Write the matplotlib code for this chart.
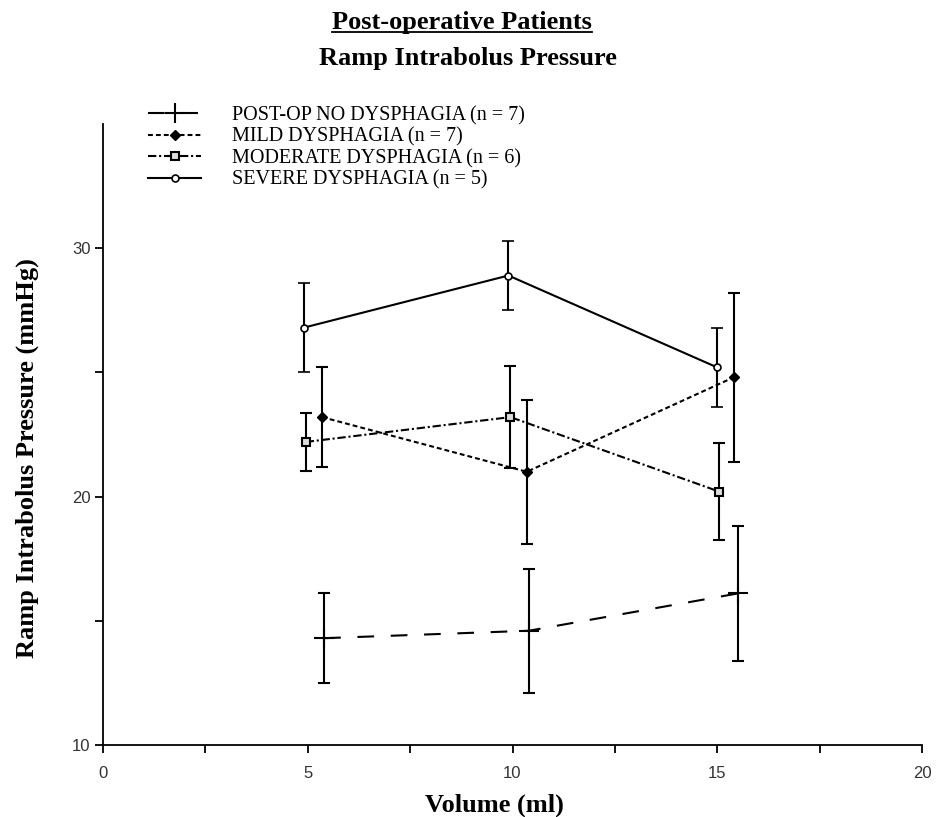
import matplotlib
matplotlib.use("Agg")
import matplotlib.pyplot as plt
from matplotlib.lines import Line2D

plt.rcParams['lines.scale_dashes'] = False

# Data
labels = ["POST-OP NO DYSPHAGIA (n = 7)", "MILD DYSPHAGIA (n = 7)",
          "MODERATE DYSPHAGIA (n = 6)", "SEVERE DYSPHAGIA (n = 5)"]
x_none = [5.4, 10.4, 15.5]
y_none = [14.3, 14.6, 16.1]
e_none = [1.8, 2.5, 2.7]

x_mild = [5.35, 10.35, 15.4]
y_mild = [23.2, 21.0, 24.8]
e_mild = [2.0, 2.9, 3.4]

x_mod = [4.95, 9.95, 15.05]
y_mod = [22.2, 23.2, 20.2]
e_mod = [1.15, 2.05, 1.95]

x_sev = [4.9, 9.9, 15.0]
y_sev = [26.8, 28.9, 25.2]
e_sev = [1.8, 1.4, 1.6]

fig = plt.figure(figsize=(9.41, 8.17), dpi=100)
ax = fig.add_axes([103/941, 1-745/817, (922-103)/941, (745-124)/817])

serif = 'Liberation Serif'
sans = 'Liberation Sans'

common = dict(color='black', capsize=4, elinewidth=1.5, capthick=1.5, lw=1.5)

h1 = ax.errorbar(x_none, y_none, yerr=e_none, marker='+', ms=14, mew=1.5,
                 dashes=(12, 12), **common)
h2 = ax.errorbar(x_mild, y_mild, yerr=e_mild, marker='D', ms=5, mfc='black',
                 dashes=(3.5, 2.2), **common)
h3 = ax.errorbar(x_mod, y_mod, yerr=e_mod, marker='s', ms=6, mfc='#dddddd', mew=1.5,
                 dashes=(6, 2, 1.5, 2), **common)
h4 = ax.errorbar(x_sev, y_sev, yerr=e_sev, marker='o', ms=5, mfc='white', mew=1.2,
                 linestyle='-', **common)

ax.set_xlim(0, 20)
ax.set_ylim(10, 35)
ax.spines['top'].set_visible(False)
ax.spines['right'].set_visible(False)
for s in ('left', 'bottom'):
    ax.spines[s].set_linewidth(1.3)
ax.set_xticks([0, 5, 10, 15, 20])
ax.set_xticks([2.5, 7.5, 12.5, 17.5], minor=True)
ax.set_yticks([10, 20, 30])
ax.set_yticks([15, 25], minor=True)
ax.tick_params(which='both', direction='out', length=6, width=1.3, labelsize=12,
               colors='black', labelcolor='#333333')
ax.tick_params(axis='x', pad=9)
ax.tick_params(axis='y', pad=3)
for t in ax.get_xticklabels() + ax.get_yticklabels():
    t.set_fontfamily(sans)

fig.text(494/941, 1-812/817, "Volume (ml)", ha='center', va='baseline',
         fontfamily=serif, fontweight='bold', fontsize=19)
fig.text(27/941, 1-458/817, "Ramp Intrabolus Pressure (mmHg)", ha='center', va='center',
         rotation=90, fontfamily=serif, fontweight='bold', fontsize=19)

leg = ax.legend([h1[0], h2[0], h3[0], h4[0]], labels, loc='upper left',
                bbox_to_anchor=(148/941, 1-106/817), bbox_transform=fig.transFigure,
                frameon=False, prop={'family': serif, 'size': 14.5},
                handlelength=2.65, handletextpad=1.5, labelspacing=0.11,
                borderpad=0, borderaxespad=0)

t1 = fig.text(462/941, 1-29/817, "Post-operative Patients", ha='center', va='baseline',
              fontfamily=serif, fontweight='bold', fontsize=19)
t2 = fig.text(468/941, 1-65/817, "Ramp Intrabolus Pressure", ha='center', va='baseline',
              fontfamily=serif, fontweight='bold', fontsize=19)

fig.canvas.draw()
bb = t1.get_window_extent(renderer=fig.canvas.get_renderer())
base_y = 1 - 32/817
fig.add_artist(Line2D([bb.x0/fig.bbox.width, bb.x1/fig.bbox.width], [base_y, base_y],
                      color='black', lw=1.3, transform=fig.transFigure))

fig.savefig("out.png", dpi=100, facecolor='white')
